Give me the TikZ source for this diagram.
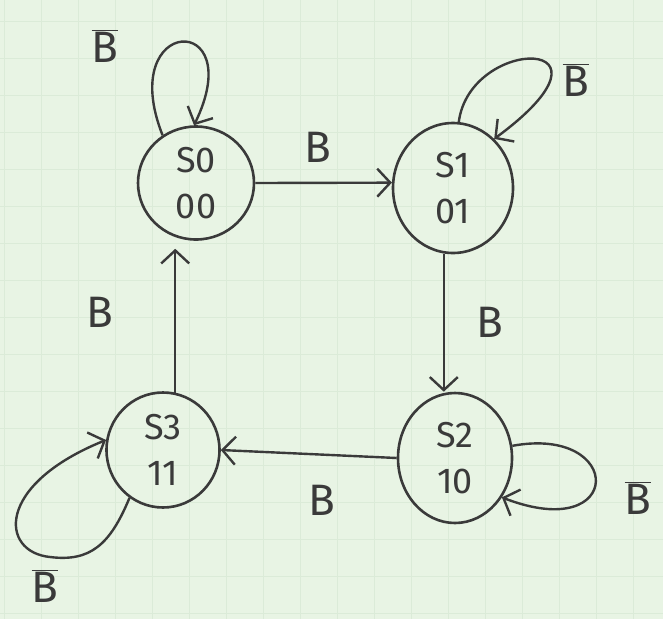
\documentclass[tikz,border=0pt]{standalone}
\usepackage{fontspec}
\setmainfont{Fira Sans}
\usetikzlibrary{arrows.meta,shapes.geometric,calc}
\definecolor{paper}{HTML}{E8F4E4}
\definecolor{gridc}{HTML}{DBEBD8}
\definecolor{pen}{HTML}{3A3A3A}
\begin{document}
\begin{tikzpicture}[x=1pt,y=-1pt,
  state/.style={ellipse,draw=pen,line width=2.6pt,inner sep=0pt,align=center,
    font=\fontsize{36}{46}\selectfont,text=pen},
  edge/.style={draw=pen,line width=2.4pt,
    -{Straight Barb[length=13pt,width=28pt,line width=2.4pt]}},
  lbl/.style={text=pen,font=\fontsize{44}{44}\selectfont,inner sep=0pt}]
\fill[paper] (0,0) rectangle (663,619);
\useasboundingbox (0,0) rectangle (663,619);
\foreach \i in {0,...,17} \draw[gridc,line width=0.8pt] ({4+37*\i},0) -- ({4+37*\i},619);
\foreach \j in {0,...,16} \draw[gridc,line width=0.8pt] (0,{21+37*\j}) -- (663,{21+37*\j});

\node[state,minimum width=116pt,minimum height=113pt] (S0) at (196,183) {S0\\00};
\node[state,minimum width=120pt,minimum height=130pt] (S1) at (453,188) {S1\\01};
\node[state,minimum width=114pt,minimum height=130pt] (S2) at (455,458) {S2\\10};
\node[state,minimum width=113pt,minimum height=115pt] (S3) at (163,450) {S3\\11};

\draw[edge] (S0.east) -- (S1.175);
\draw[edge] (S1.262) -- (S1.262 |- S2.north);
\draw[edge] (S2.west) -- (S3.east);
\draw[edge] (S3.78) -- ($(S3.78 |- S0.south)+(0,8)$);

\draw[edge] (S0.125) .. controls (115,15) and (250,10) .. (S0.92);
\draw[edge] (S1.85) .. controls (470,35) and (635,35) .. (S1.50);
\draw[edge] (S2.12) .. controls (625,425) and (625,545) .. (S2.-40);
\draw[edge] (S3.235) .. controls (110,545) and (90,562) .. (50,557)
  .. controls (0,552) and (-5,485) .. (S3.170);

\node[lbl] (l0) at (105,46) {$\overline{\hbox{B}}$};
\node[lbl] (l1) at (318,147) {B};
\node[lbl] (l2) at (576,80) {$\overline{\hbox{B}}$};
\node[lbl] (l3) at (490,322) {B};
\node[lbl] (l4) at (638,498) {$\overline{\hbox{B}}$};
\node[lbl] (l5) at (322,500) {B};
\node[lbl] (l6) at (100,312) {B};
\node[lbl] (l7) at (45,586) {$\overline{\hbox{B}}$};
\end{tikzpicture}
\end{document}
